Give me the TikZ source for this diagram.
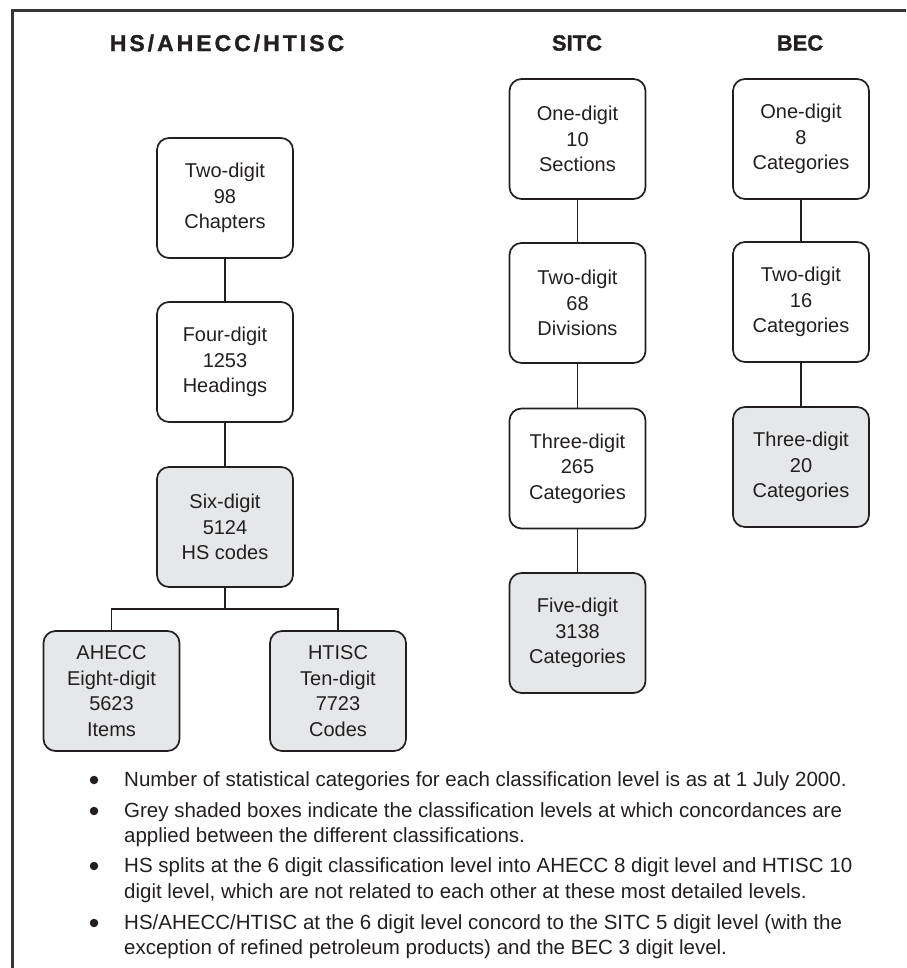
\documentclass[tikz,border=0pt]{standalone}
\usepackage{fontspec}
\setmainfont{Liberation Sans}
\newfontfamily\titlefont[LetterSpace=13,FakeBold=1.2]{Liberation Sans Bold}
\newfontfamily\headfont[FakeBold=1.2]{Liberation Sans Bold}
\definecolor{ink}{HTML}{231F20}
\definecolor{shade}{HTML}{E6E7E8}
\tikzset{
  frameline/.style={line width=3pt, draw=ink!90},
  levelbox/.style={draw=ink, line width=1.7pt, rounded corners=12pt, fill=white,
    minimum width=136pt, minimum height=120pt, align=center, inner sep=0pt,
    font=\fontsize{20}{25.5}\selectfont, text=ink},
  greybox/.style={levelbox, fill=shade},
  link/.style={draw=ink, line width=1.3pt},
  heading/.style={font=\fontsize{22}{22}\selectfont\headfont, text=ink},
  note/.style={anchor=base west, inner sep=0pt, font=\fontsize{20.5}{20.5}\selectfont, text=ink},
  dot/.style={fill=ink, draw=none, circle, minimum size=8.5pt, inner sep=0pt}
}
\begin{document}
\begin{tikzpicture}[x=1pt,y=-1pt]
\useasboundingbox (0,0) rectangle (906,968);
\draw[frameline] (12,968) -- (12,11) -- (906,11);

% headings
\node[heading, font=\fontsize{23}{23}\selectfont\titlefont] (th) at (227,43) {HS/AHECC/HTISC};
\node[heading] (ts) at (577,43) {SITC};
\node[heading] (tb) at (800,43) {BEC};

% HS column
\node[levelbox] (hs1) at (225,198) {Two-digit\\98\\Chapters};
\node[levelbox] (hs2) at (225,362) {Four-digit\\1253\\Headings};
\node[greybox] (hs3) at (225,527) {Six-digit\\5124\\HS codes};
\node[greybox] (ahecc) at (111.5,691) {AHECC\\Eight-digit\\5623\\Items};
\node[greybox] (htisc) at (338,691) {HTISC\\Ten-digit\\7723\\Codes};
\coordinate (split) at (225,609);

% SITC column
\node[levelbox] (s1) at (577.5,139) {One-digit\\10\\Sections};
\node[levelbox] (s2) at (577.5,303) {Two-digit\\68\\Divisions};
\node[levelbox] (s3) at (577.5,468.5) {Three-digit\\265\\Categories};
\node[greybox] (s4) at (577.5,633) {Five-digit\\3138\\Categories};

% BEC column
\node[levelbox] (b1) at (801,139) {One-digit\\8\\Categories};
\node[levelbox] (b2) at (801,302) {Two-digit\\16\\Categories};
\node[greybox] (b3) at (801,467) {Three-digit\\20\\Categories};

% connectors
\draw[link] (hs1) -- (hs2);
\draw[link] (hs2) -- (hs3);
\draw[link] (hs3) -- (split);
\draw[link] (ahecc.north) |- (split) -| (htisc.north);
\draw[link] (s1) -- (s2);
\draw[link] (s2) -- (s3);
\draw[link] (s3) -- (s4);
\draw[link] (b1) -- (b2);
\draw[link] (b2) -- (b3);

% notes
\node[dot] (d1) at (94,780) {};
\node[note] (n1) at (124,786) {Number of statistical categories for each classification level is as at 1 July 2000.};
\node[dot] (d2) at (94,811) {};
\node[note] (n2a) at (124,817) {Grey shaded boxes indicate the classification levels at which concordances are};
\node[note] (n2b) at (124,842) {applied between the different classifications.};
\node[dot] (d3) at (94,866) {};
\node[note] (n3a) at (124,872) {HS splits at the 6 digit classification level into AHECC 8 digit level and HTISC 10};
\node[note] (n3b) at (124,898) {digit level, which are not related to each other at these most detailed levels.};
\node[dot] (d4) at (94,923) {};
\node[note] (n4a) at (124,929) {HS/AHECC/HTISC at the 6 digit level concord to the SITC 5 digit level (with the};
\node[note] (n4b) at (124,954) {exception of refined petroleum products) and the BEC 3 digit level.};
\end{tikzpicture}
\end{document}
